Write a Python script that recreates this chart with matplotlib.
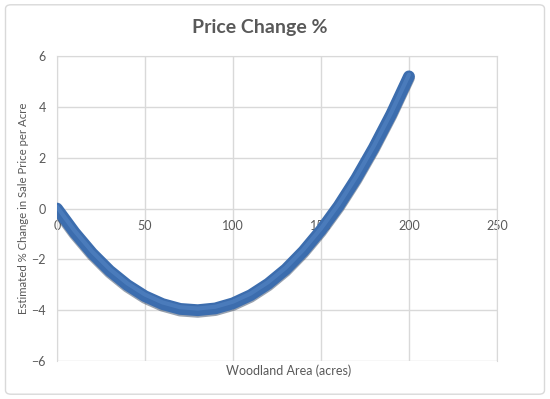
import matplotlib
matplotlib.use("Agg")
import matplotlib.pyplot as plt
from matplotlib.patches import FancyBboxPatch
from matplotlib.transforms import ScaledTranslation

# Data
woodland_acres = [0, 10, 20, 30, 40, 50, 60, 70, 80, 90, 100,
                  110, 120, 130, 140, 150, 160, 170, 180, 190, 200]
price_change_pct = [0.0, -0.94, -1.76, -2.45, -3.01, -3.45, -3.76, -3.95, -4.0, -3.93, -3.73,
                    -3.41, -2.96, -2.39, -1.68, -0.85, 0.10, 1.18, 2.39, 3.72, 5.2]
x_ticks = [0, 50, 100, 150, 200, 250]
y_ticks = [-6, -4, -2, 0, 2, 4, 6]

plt.rcParams['font.family'] = ['Lato', 'DejaVu Sans']

fig = plt.figure(figsize=(5.5, 3.99), dpi=100)
fig.patch.set_facecolor('white')

# outer chart border
border = FancyBboxPatch((0.01, 0.012), 0.98, 0.976, boxstyle="round,pad=0,rounding_size=0.01",
                        transform=fig.transFigure, facecolor='none', edgecolor='#D9D9D9',
                        linewidth=1.0, zorder=0)
fig.patches.append(border)

ax = fig.add_axes([0.1036, 0.0952, 0.8, 0.7644])
ax.set_facecolor('none')
ax.set_xlim(0, 250)
ax.set_ylim(-6, 6)
ax.set_xticks(x_ticks)
ax.set_yticks(y_ticks)
ax.set_yticklabels([('\u2212' + str(-v)) if v < 0 else str(v) for v in y_ticks])
ax.grid(True, color='#D9D9D9', linewidth=1.0)
ax.set_axisbelow(True)
for s in ['top', 'right', 'left']:
    ax.spines[s].set_color('#D9D9D9')
ax.spines['bottom'].set_position(('data', 0))
ax.spines['bottom'].set_visible(False)
ax.tick_params(axis='both', length=0, colors='#595959', labelsize=9)
ax.tick_params(axis='x', pad=8)
ax.tick_params(axis='y', pad=8)

lw = 8.5
# shadow
ax.plot(woodland_acres, price_change_pct, color='#1F3350', linewidth=lw, alpha=0.45,
        solid_capstyle='round', solid_joinstyle='round', zorder=3,
        transform=ax.transData + ScaledTranslation(0, -1.2 / 72, fig.dpi_scale_trans))
# main line
ax.plot(woodland_acres, price_change_pct, color='#3C6DAE', linewidth=lw,
        solid_capstyle='round', solid_joinstyle='round', zorder=4)
# highlight
ax.plot(woodland_acres, price_change_pct, color='#5585C4', linewidth=3,
        solid_capstyle='round', solid_joinstyle='round', zorder=5, alpha=0.6,
        transform=ax.transData + ScaledTranslation(0, 1.2 / 72, fig.dpi_scale_trans))

fig.text(0.473, 0.932, 'Price Change %', ha='center', va='center', fontsize=14,
         fontweight='bold', color='#595959')
fig.text(0.525, 0.07, 'Woodland Area (acres)', ha='center', va='center', fontsize=9, color='#595959')
fig.text(0.043, 0.478, 'Estimated % Change in Sale Price per Acre', ha='center', va='center',
         rotation=90, fontsize=8.2, color='#595959')

fig.savefig('out.png', dpi=100)
